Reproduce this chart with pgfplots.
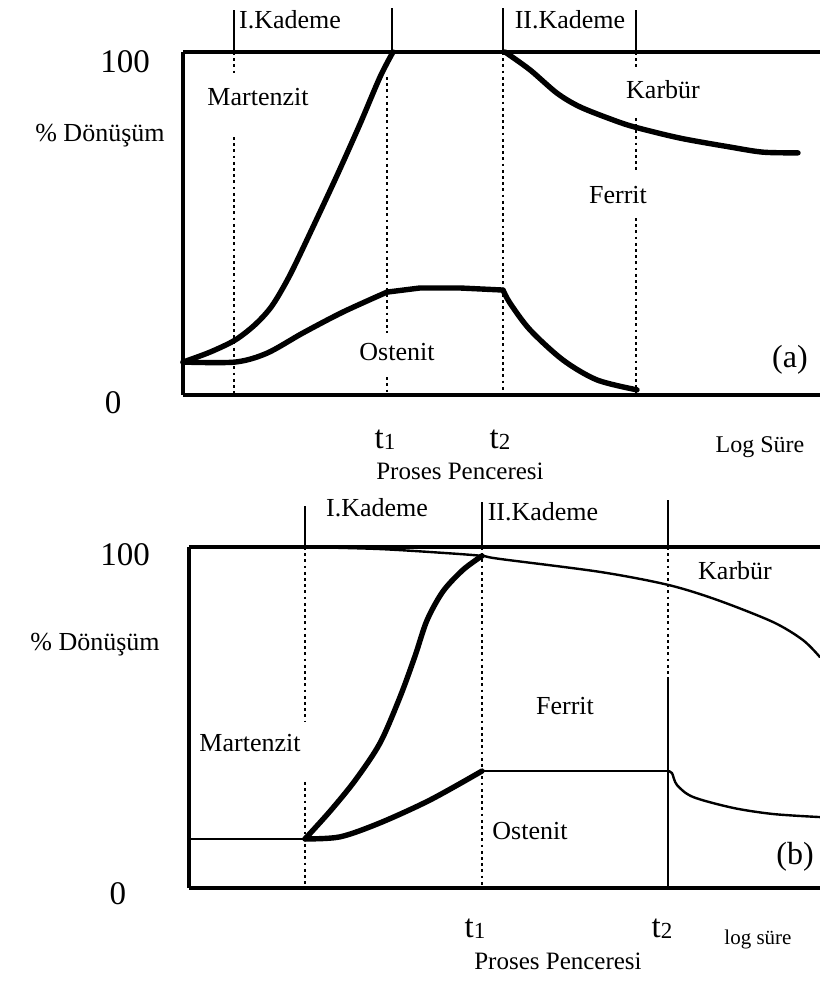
\documentclass[border=0pt]{standalone}
\usepackage{fontspec}
\setmainfont{Liberation Serif}
\usepackage{pgfplots}
\pgfplotsset{compat=1.18}
\pgfplotsset{
  panel/.style={scale only axis, axis lines=none, clip=false, ymin=0, ymax=100, ticks=none},
  thk/.style={black, line width=2.7pt, line cap=round, line join=round, no markers},
  thn/.style={black, line width=1.2pt, line cap=round, line join=round, no markers},
  frm/.style={black, line width=1.7pt, no markers},
  tck/.style={black, line width=1.4pt, no markers},
  dtl/.style={black, line width=1.3pt, dash pattern=on 1.4pt off 1.7pt, no markers},
}
\newcommand{\lab}{\fontsize{13}{15}\selectfont}
\newcommand{\bignum}{\fontsize{16.5}{18}\selectfont}
\newcommand{\tsub}[1]{\fontsize{16.5}{18}\selectfont t\raisebox{-0.12ex}{\fontsize{11.5}{12}\selectfont #1}}
\begin{document}
\begin{tikzpicture}
\useasboundingbox (0,0) rectangle (410pt,-490.5pt);
% ---------------- panel (a)
\begin{axis}[panel, at={(91.5pt,-197.5pt)}, anchor=south west,
  width=318.5pt, height=171.5pt, xmin=183, xmax=820]
\addplot[frm] coordinates {(183,0) (183,100)};
\addplot[frm] coordinates {(183,100) (820,100)};
\addplot[frm] coordinates {(183,0) (820,0)};
% ticks above
\addplot[tck] coordinates {(234,100) (234,112.2)};
\addplot[tck] coordinates {(392,100) (392,112.8)};
\addplot[tck] coordinates {(503,100) (503,112.8)};
\addplot[tck] coordinates {(636,100) (636,112.2)};
% dotted
\addplot[dtl] coordinates {(234,100) (234,93.9)};
\addplot[dtl] coordinates {(234,75.2) (234,0)};
\addplot[dtl] coordinates {(387,92.7) (387,18.1)};
\addplot[dtl] coordinates {(387,5.2) (387,0)};
\addplot[dtl] coordinates {(503,100) (503,0)};
\addplot[dtl] coordinates {(636,100) (636,94.8)};
\addplot[dtl] coordinates {(636,80.8) (636,64.7)};
\addplot[dtl] coordinates {(636,51.6) (636,0)};
% Martenzit
\addplot[thk, smooth] coordinates {(183,9.6) (210,12.5) (235,16.0) (255,20.5) (272,26.0) (290,35.0) (313,49.0) (337,64.0) (360,79.0) (380,92.7) (393,100)};
% Ostenit
\addplot[thk, smooth] coordinates {(183,9.6) (235,9.6) (267,12.2) (303,18.1) (343,24.2) (387,30.0)};
\addplot[thk] coordinates {(387,30.0) (420,31.2) (460,31.2) (503,30.6)};
\addplot[thk, smooth] coordinates {(503,30.6) (510,26.8) (530,19.0) (563,10.2) (597,4.4) (637,1.5)};
% Karbur
\addplot[thk, smooth] coordinates {(505,100) (530,94.8) (557,88.0) (580,84.0) (613,80.2) (635,78.1) (680,74.9) (730,72.3) (763,70.8) (798,70.6)};
% labels
\node[anchor=east] at (axis cs:157,97.1) {\bignum 100};
\node at (axis cs:113,-2.3) {\bignum 0};
\node at (axis cs:100,75.5) {\lab \% Dönüşüm};
\node at (axis cs:290,109.3) {\lab I.Kademe};
\node at (axis cs:570,109.3) {\lab II.Kademe};
\node at (axis cs:258,86.9) {\lab Martenzit};
\node at (axis cs:663,88.9) {\lab Karbür};
\node at (axis cs:618,58.3) {\lab Ferrit};
\node at (axis cs:397,12.5) {\lab Ostenit};
\node at (axis cs:790,10.2) {\fontsize{16}{18}\selectfont (a)};
\node[anchor=base, inner sep=0pt] at (axis cs:385,-15.5) {\tsub{1}};
\node[anchor=base, inner sep=0pt] at (axis cs:500,-15.5) {\tsub{2}};
\node[anchor=base, inner sep=0pt] at (axis cs:760,-16.9) {\fontsize{12}{14}\selectfont Log Süre};
\node[anchor=base, inner sep=0pt] at (axis cs:460,-24.5) {\fontsize{12.5}{14}\selectfont Proses Penceresi};
\end{axis}
% ---------------- panel (b)
\begin{axis}[panel, at={(94.5pt,-444pt)}, anchor=south west,
  width=315.5pt, height=170.5pt, xmin=189, xmax=820]
\addplot[frm] coordinates {(189,0) (189,100)};
\addplot[frm] coordinates {(189,100) (820,100)};
\addplot[frm] coordinates {(189,0) (820,0)};
\addplot[tck] coordinates {(305,100) (305,112)};
\addplot[tck] coordinates {(482,100) (482,113.2)};
\addplot[tck] coordinates {(668,100) (668,113.8)};
\addplot[dtl] coordinates {(305,100) (305,48.7)};
\addplot[dtl] coordinates {(305,31.1) (305,0)};
\addplot[dtl] coordinates {(482,100) (482,0)};
\addplot[dtl] coordinates {(668,100) (668,61.3)};
\addplot[thn] coordinates {(668,61.3) (668,0)};
% flat start
\addplot[thn] coordinates {(189,14.4) (305,14.4)};
% Martenzit
\addplot[thk, smooth] coordinates {(305,14.4) (330,22.5) (355,31.5) (380,42.5) (400,56.0) (415,68.0) (427,78.5) (443,87.0) (463,93.3) (482,97.4)};
% Ostenit
\addplot[thk, smooth] coordinates {(305,14.4) (340,15.0) (380,19.1) (430,25.8) (482,34.3)};
\addplot[thn] coordinates {(482,34.3) (668,34.3)};
\addplot[thn, smooth] coordinates {(668,34.3) (672,33.7) (677,30.2) (693,26.7) (733,23.5) (773,21.7) (820,20.8)};
% Karbur
\addplot[thn, smooth] coordinates {(305,100) (380,99.4) (447,98.2) (482,97.4) (500,96.5) (600,92.7) (668,88.9) (717,84.5) (773,78.0) (803,72.7) (820,67.7)};
% labels
\node[anchor=east] at (axis cs:157,97.7) {\bignum 100};
\node at (axis cs:118,-1.8) {\bignum 0};
\node at (axis cs:95,71.3) {\lab \% Dönüşüm};
\node at (axis cs:377,111.4) {\lab I.Kademe};
\node at (axis cs:543,110.3) {\lab II.Kademe};
\node at (axis cs:735,93) {\lab Karbür};
\node at (axis cs:565,53.4) {\lab Ferrit};
\node at (axis cs:250,42.5) {\lab Martenzit};
\node at (axis cs:530,16.7) {\lab Ostenit};
\node at (axis cs:795,9.1) {\fontsize{16}{18}\selectfont (b)};
\node[anchor=base, inner sep=0pt] at (axis cs:475,-14.4) {\tsub{1}};
\node[anchor=base, inner sep=0pt] at (axis cs:662,-14.4) {\tsub{2}};
\node[anchor=base, inner sep=0pt] at (axis cs:758,-16.7) {\fontsize{10.5}{12}\selectfont log süre};
\node[anchor=base, inner sep=0pt] at (axis cs:558,-24.0) {\fontsize{12.5}{14}\selectfont Proses Penceresi};
\end{axis}
\end{tikzpicture}
\end{document}
